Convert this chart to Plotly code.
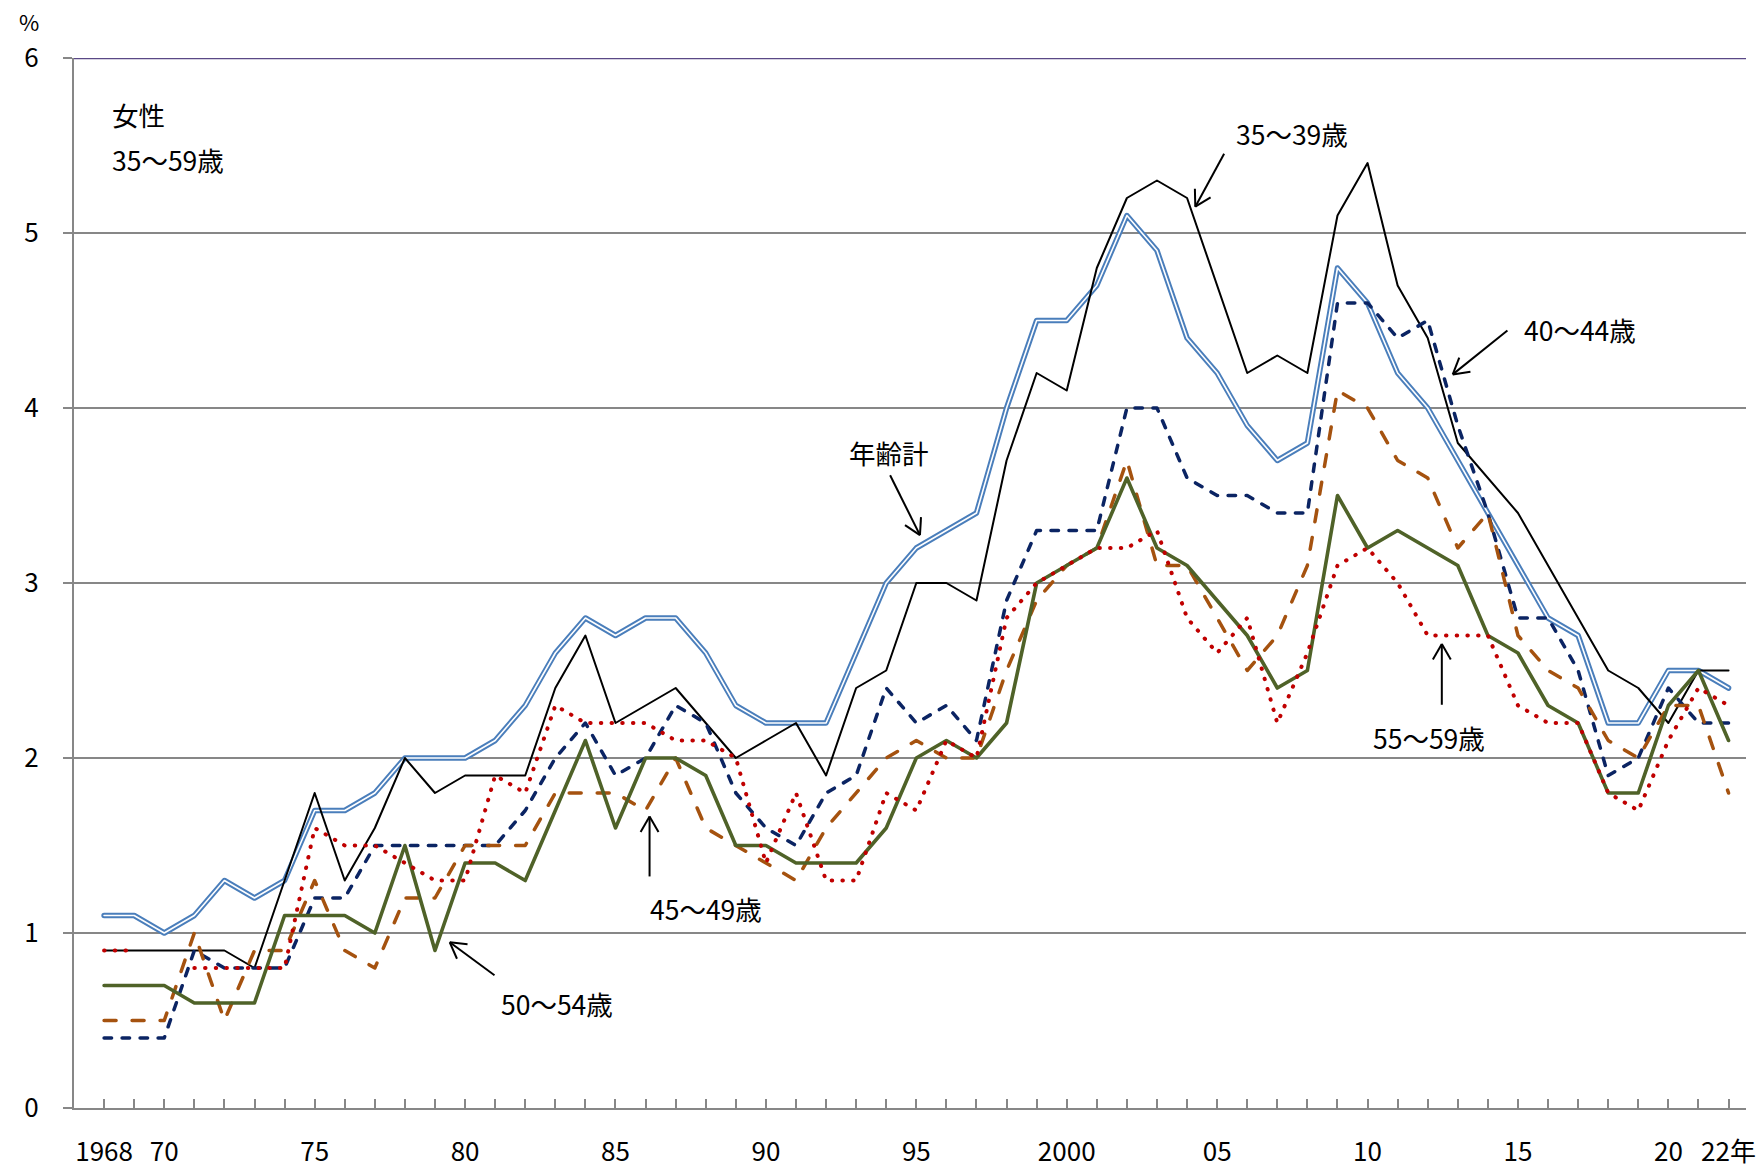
import math
import plotly.graph_objects as go

# ---------------- data ----------------
years = list(range(1968, 2023))

total = [1.1, 1.1, 1.0, 1.1, 1.3, 1.2, 1.3, 1.7, 1.7, 1.8,
         2.0, 2.0, 2.0, 2.1, 2.3, 2.6, 2.8, 2.7, 2.8, 2.8,
         2.6, 2.3, 2.2, 2.2, 2.2, 2.6, 3.0, 3.2, 3.3, 3.4,
         4.0, 4.5, 4.5, 4.7, 5.1, 4.9, 4.4, 4.2, 3.9, 3.7,
         3.8, 4.8, 4.6, 4.2, 4.0, 3.7, 3.4, 3.1, 2.8, 2.7,
         2.2, 2.2, 2.5, 2.5, 2.4]

age35_39 = [0.9, 0.9, 0.9, 0.9, 0.9, 0.8, 1.3, 1.8, 1.3, 1.6,
            2.0, 1.8, 1.9, 1.9, 1.9, 2.4, 2.7, 2.2, 2.3, 2.4,
            2.2, 2.0, 2.1, 2.2, 1.9, 2.4, 2.5, 3.0, 3.0, 2.9,
            3.7, 4.2, 4.1, 4.8, 5.2, 5.3, 5.2, 4.7, 4.2, 4.3,
            4.2, 5.1, 5.4, 4.7, 4.4, 3.8, 3.6, 3.4, 3.1, 2.8,
            2.5, 2.4, 2.2, 2.5, 2.5]

age40_44 = [0.4, 0.4, 0.4, 0.9, 0.8, 0.8, 0.8, 1.2, 1.2, 1.5,
            1.5, 1.5, 1.5, 1.5, 1.7, 2.0, 2.2, 1.9, 2.0, 2.3,
            2.2, 1.8, 1.6, 1.5, 1.8, 1.9, 2.4, 2.2, 2.3, 2.1,
            2.9, 3.3, 3.3, 3.3, 4.0, 4.0, 3.6, 3.5, 3.5, 3.4,
            3.4, 4.6, 4.6, 4.4, 4.5, 3.9, 3.4, 2.8, 2.8, 2.5,
            1.9, 2.0, 2.4, 2.2, 2.2]

age45_49 = [0.5, 0.5, 0.5, 1.0, 0.5, 0.9, 0.9, 1.3, 0.9, 0.8,
            1.2, 1.2, 1.5, 1.5, 1.5, 1.8, 1.8, 1.8, 1.7, 2.0,
            1.6, 1.5, 1.4, 1.3, 1.6, 1.8, 2.0, 2.1, 2.0, 2.0,
            2.5, 2.9, 3.1, 3.2, 3.7, 3.1, 3.1, 2.8, 2.5, 2.7,
            3.1, 4.1, 4.0, 3.7, 3.6, 3.2, 3.4, 2.7, 2.5, 2.4,
            2.1, 2.0, 2.3, 2.3, 1.8]

age50_54 = [0.7, 0.7, 0.7, 0.6, 0.6, 0.6, 1.1, 1.1, 1.1, 1.0,
            1.5, 0.9, 1.4, 1.4, 1.3, 1.7, 2.1, 1.6, 2.0, 2.0,
            1.9, 1.5, 1.5, 1.4, 1.4, 1.4, 1.6, 2.0, 2.1, 2.0,
            2.2, 3.0, 3.1, 3.2, 3.6, 3.2, 3.1, 2.9, 2.7, 2.4,
            2.5, 3.5, 3.2, 3.3, 3.2, 3.1, 2.7, 2.6, 2.3, 2.2,
            1.8, 1.8, 2.3, 2.5, 2.1]

age55_59 = [0.9, 0.9, None, 0.8, 0.8, 0.8, 0.8, 1.6, 1.5, 1.5,
            1.4, 1.3, 1.3, 1.9, 1.8, 2.3, 2.2, 2.2, 2.2, 2.1,
            2.1, 2.0, 1.4, 1.8, 1.3, 1.3, 1.8, 1.7, 2.1, 2.0,
            2.8, 3.0, 3.1, 3.2, 3.2, 3.3, 2.8, 2.6, 2.8, 2.2,
            2.6, 3.1, 3.2, 3.0, 2.7, 2.7, 2.7, 2.3, 2.2, 2.2,
            1.8, 1.7, 2.1, 2.4, 2.3]

tick_labels = {1968: "1968", 1970: "70", 1975: "75", 1980: "80", 1985: "85",
               1990: "90", 1995: "95", 2000: "2000", 2005: "05", 2010: "10",
               2015: "15", 2020: "20", 2022: "22年"}

# ---------------- layout geometry ----------------
W, H = 1756, 1168
ML, MR, MT, MB = 74, 0, 58, 58
PW, PH = W - ML - MR, H - MT - MB
FONT = "Noto Sans CJK JP, Noto Sans, sans-serif"
GRAY = "#878787"
TICK_SIZE = 26
TEXT_SIZE = 26.5


def px(xp, yp):
    """pixel position -> paper coordinates"""
    return (xp - ML) / PW, (H - MB - yp) / PH


fig = go.Figure()

# 年齢計 (double line)
fig.add_trace(go.Scatter(x=years, y=total, mode="lines", name="年齢計",
                         line=dict(color="#4A7EBB", width=5.5), hoverinfo="skip"))
fig.add_trace(go.Scatter(x=years, y=total, mode="lines", name="年齢計_inner",
                         line=dict(color="white", width=1.6), hoverinfo="skip"))
# 35~39
fig.add_trace(go.Scatter(x=years, y=age35_39, mode="lines", name="35～39歳",
                         line=dict(color="#000000", width=2), hoverinfo="skip"))
# 40~44
fig.add_trace(go.Scatter(x=years, y=age40_44, mode="lines", name="40～44歳",
                         line=dict(color="#0B2463", width=3.5, dash="7.5px,10.5px"),
                         hoverinfo="skip"))
# 45~49
fig.add_trace(go.Scatter(x=years, y=age45_49, mode="lines", name="45～49歳",
                         line=dict(color="#A5520F", width=3.5, dash="12px,16px"),
                         hoverinfo="skip"))
# 50~54
fig.add_trace(go.Scatter(x=years, y=age50_54, mode="lines", name="50～54歳",
                         line=dict(color="#4F6228", width=3.6), hoverinfo="skip"))
# 55~59
fig.add_trace(go.Scatter(x=years, y=age55_59, mode="lines", name="55～59歳",
                         connectgaps=False,
                         line=dict(color="#C00000", width=4, dash="0.5px,10.2px"),
                         hoverinfo="skip"))

shapes = []
# purple top border at 6
shapes.append(dict(type="line", xref="paper", yref="y", x0=0, x1=1, y0=6, y1=6,
                   line=dict(color="#5A4886", width=2.4)))


def arrow(x0, y0, x1, y1, arm=18, ang=30):
    a0, b0 = px(x0, y0)
    a1, b1 = px(x1, y1)
    shapes.append(dict(type="line", xref="paper", yref="paper", x0=a0, y0=b0, x1=a1, y1=b1,
                       line=dict(color="black", width=2)))
    dx, dy = x0 - x1, y0 - y1
    L = math.hypot(dx, dy)
    ux, uy = dx / L, dy / L
    for s in (1, -1):
        t = math.radians(ang) * s
        vx = ux * math.cos(t) - uy * math.sin(t)
        vy = ux * math.sin(t) + uy * math.cos(t)
        c0, d0 = px(x1 + vx * arm, y1 + vy * arm)
        shapes.append(dict(type="line", xref="paper", yref="paper", x0=a1, y0=b1, x1=c0, y1=d0,
                           line=dict(color="black", width=2)))


arrow(1231, 154, 1202, 207)     # 35~39
arrow(1516, 331, 1461, 375)     # 40~44
arrow(895, 476, 925, 536)       # 年齢計
arrow(653, 878, 653, 818)       # 45~49
arrow(497, 977, 452, 944)       # 50~54
arrow(1450, 706, 1450, 645)     # 55~59

annotations = []


def label(text, xp, yp, xanchor="center", size=TEXT_SIZE):
    a, b = px(xp, yp)
    annotations.append(dict(text=text, xref="paper", yref="paper", x=a, y=b,
                            xanchor=xanchor, yanchor="middle", showarrow=False,
                            font=dict(family=FONT, size=size, color="black")))


label("女性", 110, 115, xanchor="left")
label("35～59歳", 110, 160, xanchor="left")
label("35～39歳", 1299, 134)
label("40～44歳", 1589, 330)
label("年齢計", 894, 453)
label("45～49歳", 710, 910)
label("50～54歳", 560, 1005)
label("55～59歳", 1437, 739)
label("%", 29, 21, size=22)

fig.update_layout(
    width=W, height=H,
    margin=dict(l=ML, r=MR, t=MT, b=MB, pad=0),
    paper_bgcolor="white", plot_bgcolor="white",
    showlegend=False,
    font=dict(family=FONT, size=TICK_SIZE, color="black"),
    shapes=shapes, annotations=annotations,
    xaxis=dict(range=[1967, 2022.58], tickmode="array", tickvals=years,
               ticktext=[tick_labels.get(y, "") for y in years],
               ticks="inside", ticklen=9, tickwidth=1.5, tickcolor=GRAY,
               showline=True, linecolor=GRAY, linewidth=2,
               showgrid=False, zeroline=False, ticklabelstandoff=20,
               ticklabeloverflow="allow",
               tickfont=dict(family=FONT, size=TICK_SIZE, color="black")),
    yaxis=dict(range=[0, 6], tickmode="linear", tick0=0, dtick=1,
               ticks="outside", ticklen=9, tickwidth=2, tickcolor=GRAY,
               showline=True, linecolor=GRAY, linewidth=2,
               showgrid=True, gridcolor=GRAY, gridwidth=2, zeroline=False,
               ticklabelstandoff=19, ticklabeloverflow="allow",
               tickfont=dict(family=FONT, size=TICK_SIZE, color="black")),
)

post = """
document.documentElement.style.margin='0';
document.documentElement.style.overflow='hidden';
document.body.style.margin='0';
document.body.style.padding='0';
document.body.style.overflow='hidden';
var st=document.createElement('style');
st.textContent='html,body{margin:0;padding:0;overflow:hidden;} .scatterlayer path.js-line{stroke-linecap:round;stroke-linejoin:round;}';
document.head.appendChild(st);
"""
fig.write_html("out.html", post_script=post, config={"displayModeBar": False})
